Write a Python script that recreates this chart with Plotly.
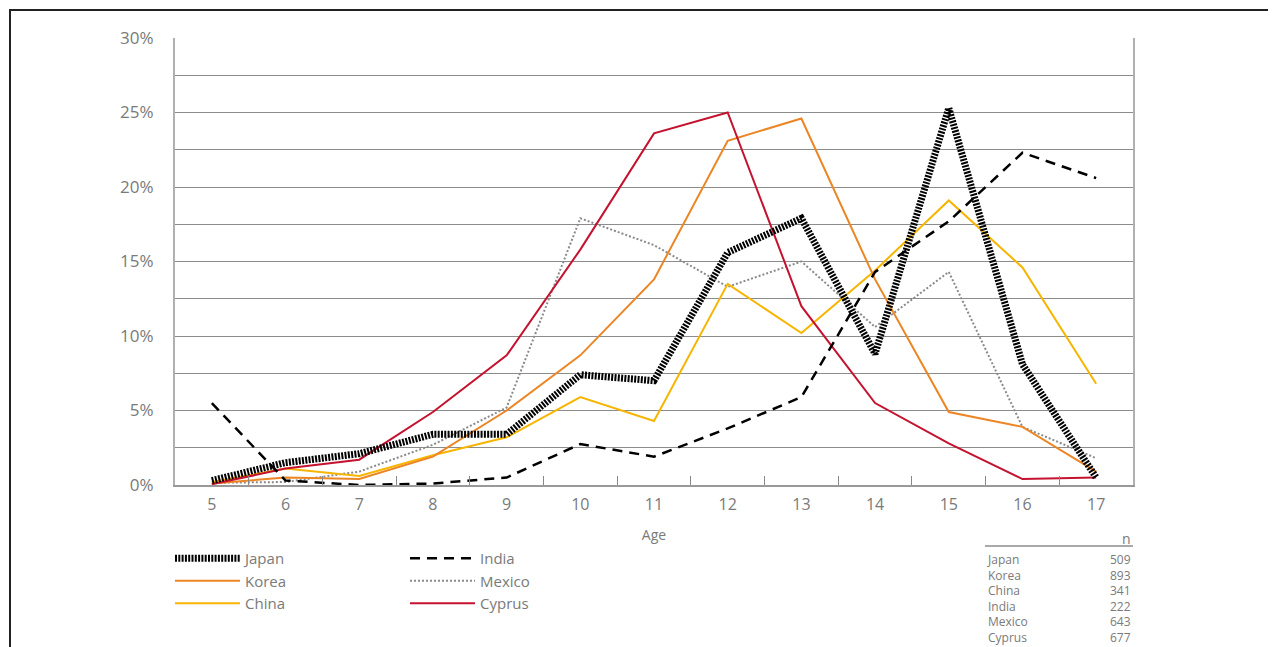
import plotly.graph_objects as go

# Age distribution by country (share of respondents, %)
ages = ["5", "6", "7", "8", "9", "10", "11", "12", "13", "14", "15", "16", "17"]

japan = [0.3, 1.5, 2.1, 3.4, 3.4, 7.4, 7.0, 15.6, 17.9, 8.8, 25.3, 8.1, 0.5]
korea = [0.1, 0.5, 0.4, 1.9, 5.0, 8.7, 13.8, 23.1, 24.6, 13.8, 4.9, 3.9, 0.9]
china = [0.2, 1.1, 0.6, 2.0, 3.2, 5.9, 4.3, 13.5, 10.2, 14.4, 19.1, 14.6, 6.8]
india = [5.5, 0.3, 0.0, 0.1, 0.5, 2.75, 1.9, 3.8, 5.9, 14.3, 17.7, 22.3, 20.6]
mexico = [0.15, 0.2, 0.9, 2.7, 5.2, 17.9, 16.1, 13.3, 15.0, 10.6, 14.3, 3.9, 1.8]
cyprus = [0.05, 1.1, 1.7, 4.9, 8.7, 15.8, 23.6, 25.0, 12.0, 5.5, 2.8, 0.4, 0.5]

n_countries = ["Japan", "Korea", "China", "India", "Mexico", "Cyprus"]
n_values = [509, 893, 341, 222, 643, 677]

y_ticks = [0, 5, 10, 15, 20, 25, 30]
y_tick_labels = ["0%", "5%", "10%", "15%", "20%", "25%", "30%"]

W, H = 1276, 647
OFF = 8  # the page body margin shifts the figure by this much
# plot area in screen pixels
X0, X1, Y0, Y1 = 175, 1133, 38, 485
PW, PH = X1 - X0, Y1 - Y0
L, T = X0 - OFF, Y0 - OFF
R, B = W - L - PW, H - T - PH


def px_x(x):
    return (x - X0) / PW


def px_y(y):
    return (Y1 - y) / PH


FONT = "Open Sans"
GREY = "#7a7a7a"

fig = go.Figure()

series = [
    ("Japan", japan, dict(color="black", width=7, dash="2px,1.3px"), "legend"),
    ("Korea", korea, dict(color="#EC8523", width=2), "legend"),
    ("China", china, dict(color="#F7B500", width=2), "legend"),
    ("India", india, dict(color="black", width=2.5, dash="10px,7px"), "legend2"),
    ("Mexico", mexico, dict(color="#8a8a8a", width=2, dash="2px,2px"), "legend2"),
    ("Cyprus", cyprus, dict(color="#C4122F", width=2), "legend2"),
]
names = [s[0] for s in series]
# draw order: lighter lines first, Japan on top
order = ["Mexico", "China", "Korea", "Cyprus", "India", "Japan"]
lookup = {s[0]: s for s in series}
for name in order:
    nm, vals, line, leg = lookup[name]
    fig.add_trace(go.Scatter(
        x=ages, y=vals, name=nm, mode="lines", line=line,
        legend=leg, legendrank=names.index(nm),
    ))

fig.update_xaxes(
    type="category", range=[-0.5, 12.5], showgrid=False,
    ticks="inside", tickson="boundaries", ticklen=9, tickcolor="#888",
    showline=True, linecolor="#999", linewidth=2, mirror=False,
    tickfont=dict(family=FONT, size=16, color=GREY),
    ticklabelstandoff=4,
    title=dict(text="Age", font=dict(family=FONT, size=14, color=GREY), standoff=16),
)
fig.update_yaxes(
    range=[0, 30], tickvals=y_ticks, ticktext=y_tick_labels,
    showgrid=True, gridcolor="#8c8c8c", gridwidth=1,
    minor=dict(dtick=2.5, showgrid=True, gridcolor="#8c8c8c", gridwidth=1),
    showline=True, linecolor="#b0b0b0", linewidth=2, mirror=True,
    ticks="", ticklabelstandoff=16, zeroline=False,
    tickfont=dict(family=FONT, size=17, color=GREY),
)

legend_common = dict(
    orientation="v", bgcolor="rgba(0,0,0,0)", itemwidth=65,
    font=dict(family=FONT, size=15, color=GREY), tracegroupgap=0,
    xanchor="left", yanchor="top", itemclick=False, itemdoubleclick=False,
)
fig.update_layout(
    width=W, height=H,
    margin=dict(l=L, r=R, t=T, b=B),
    plot_bgcolor="white", paper_bgcolor="white",
    legend=dict(x=px_x(170), y=px_y(542), **legend_common),
    legend2=dict(x=px_x(405), y=px_y(542), **legend_common),
    showlegend=True,
)

# sample-size table at the lower right
tx0, tx1 = px_x(985), px_x(1133)
fig.add_annotation(x=tx1, y=px_y(538), xref="paper", yref="paper", text="n",
                   showarrow=False, xanchor="right", yanchor="middle",
                   font=dict(family=FONT, size=14, color=GREY))
fig.add_shape(type="line", xref="paper", yref="paper",
              x0=tx0, x1=tx1, y0=px_y(546), y1=px_y(546),
              line=dict(color="#555", width=1))
tfont = dict(family=FONT, size=12, color=GREY)
fig.add_annotation(x=tx0, y=px_y(549), xref="paper", yref="paper",
                   text="<br>".join(n_countries), align="left",
                   showarrow=False, xanchor="left", yanchor="top", font=tfont)
fig.add_annotation(x=tx1, y=px_y(549), xref="paper", yref="paper",
                   text="<br>".join(str(v) for v in n_values), align="right",
                   showarrow=False, xanchor="right", yanchor="top", font=tfont)

# outer frame (left and top edges)
fig.add_shape(type="path", xref="paper", yref="paper",
              path=f"M {px_x(10)},{px_y(H + 20)} L {px_x(10)},{px_y(10)} L {px_x(W + 20)},{px_y(10)}",
              line=dict(color="#222", width=2))

fig.write_html("out.html")
